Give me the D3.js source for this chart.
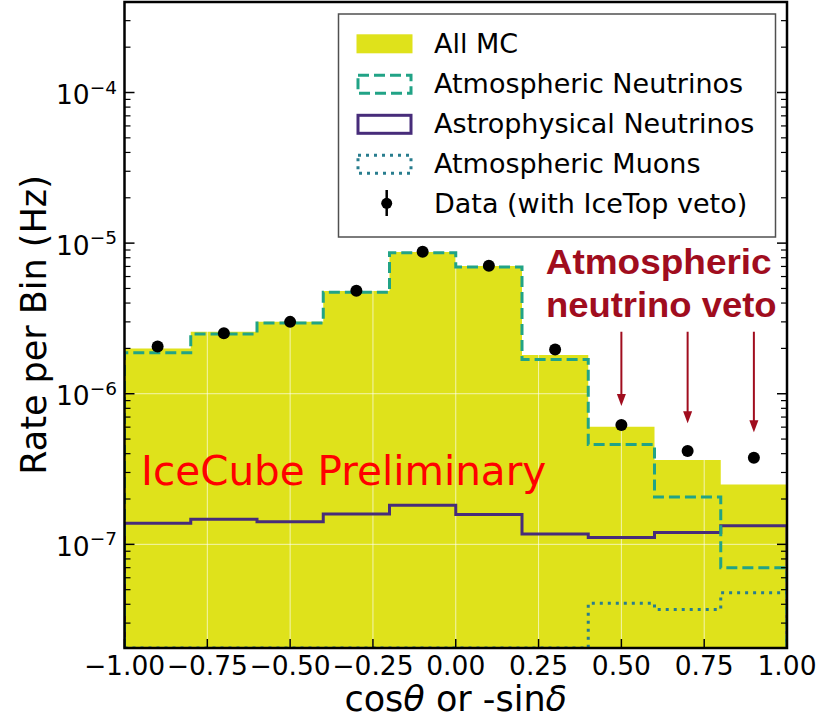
<!DOCTYPE html>
<html>
<head>
<meta charset="utf-8">
<script src="https://cdn.jsdelivr.net/npm/d3@7"></script>
<style>
  body { margin: 0; background: #fff; }
  text { font-family: 'DejaVu Sans', sans-serif; }
</style>
</head>
<body>
<div id="chart"></div>
<script>
// bin edges in cos(theta), 10 bins of width 0.2
const binEdges = [-1.0, -0.8, -0.6, -0.4, -0.2, 0.0, 0.2, 0.4, 0.6, 0.8, 1.0];
const binCenters = [-0.9, -0.7, -0.5, -0.3, -0.1, 0.1, 0.3, 0.5, 0.7, 0.9];

// rates per bin (Hz)
const allMC = [2.0e-6, 2.58e-6, 3.0e-6, 4.81e-6, 8.73e-6, 7.05e-6, 1.81e-6, 6.04e-7, 3.63e-7, 2.5e-7];
const atmNu = [1.87e-6, 2.49e-6, 2.95e-6, 4.71e-6, 8.63e-6, 6.94e-6, 1.69e-6, 4.61e-7, 2.06e-7, 7.0e-8];
const astroNu = [1.38e-7, 1.47e-7, 1.41e-7, 1.59e-7, 1.82e-7, 1.58e-7, 1.17e-7, 1.11e-7, 1.2e-7, 1.33e-7];
const atmMu = [0, 0, 0, 0, 0, 0, 0, 4.06e-8, 3.7e-8, 4.77e-8];
const dataRate = [2.06e-6, 2.52e-6, 3.0e-6, 4.83e-6, 8.77e-6, 7.08e-6, 1.97e-6, 6.2e-7, 4.17e-7, 3.76e-7];

const xTicks = [-1.0, -0.75, -0.5, -0.25, 0.0, 0.25, 0.5, 0.75, 1.0];
const yDecades = [-7, -6, -5, -4];

// veto arrows: x position, where they start and where the tip ends
const arrowX = [0.5, 0.7, 0.9];
const arrowStart = 2.58e-6;
const arrowTip = [8.3e-7, 6.36e-7, 5.55e-7];

const legendLabels = ['All MC', 'Atmospheric Neutrinos', 'Astrophysical Neutrinos', 'Atmospheric Muons', 'Data (with IceTop veto)'];

const width = 817, height = 719;
const pL = 124.5, pR = 787, pT = 2, pB = 648; // plot box

const cYellow = '#dfe21b', cTeal = '#21a386', cPurple = '#472c7a', cDot = '#287d8e', cRed = '#a00d1e';

const x = d3.scaleLinear().domain([-1, 1]).range([pL, pR]);
const y = d3.scaleLog().domain([2.05e-8, 3.99e-4]).range([pB, pT]);
const yc = (v) => (v > 0 ? y(Math.max(v, y.domain()[0])) : pB); // zero bins sit on the floor

const svg = d3.select('#chart').append('svg').attr('width', width).attr('height', height);

svg.append('defs').append('clipPath').attr('id', 'plotclip')
  .append('rect').attr('x', pL).attr('y', pT).attr('width', pR - pL).attr('height', pB - pT);

const plot = svg.append('g').attr('clip-path', 'url(#plotclip)');

// step points: each edge carries the value of the bin to its right, last edge repeats
function stepPts(vals) {
  return binEdges.map((e, i) => [e, vals[Math.min(i, vals.length - 1)]]);
}

// stepfilled all MC
plot.append('path')
  .attr('d', d3.area().curve(d3.curveStepAfter)
    .x((d) => x(d[0])).y0(pB).y1((d) => yc(d[1]))(stepPts(allMC)))
  .attr('fill', cYellow);

// grid over the fill
plot.append('g').selectAll('line').data(xTicks.slice(1, -1)).join('line')
  .attr('x1', (d) => x(d)).attr('x2', (d) => x(d)).attr('y1', pT).attr('y2', pB)
  .attr('stroke', '#fff').attr('stroke-opacity', 0.65).attr('stroke-width', 1);
plot.append('g').selectAll('line').data(yDecades).join('line')
  .attr('x1', pL).attr('x2', pR).attr('y1', (d) => y(Math.pow(10, d))).attr('y2', (d) => y(Math.pow(10, d)))
  .attr('stroke', '#fff').attr('stroke-opacity', 0.65).attr('stroke-width', 1);

// step outlines, dropping to the floor at both ends like histtype='step'
function stepLine(vals) {
  const pts = [[binEdges[0], 0]].concat(stepPts(vals), [[binEdges[binEdges.length - 1], 0]]);
  return d3.line().curve(d3.curveStepAfter).x((d) => x(d[0])).y((d) => yc(d[1]))(pts);
}

plot.append('path').attr('d', stepLine(atmMu)).attr('fill', 'none')
  .attr('stroke', cDot).attr('stroke-width', 3).attr('stroke-dasharray', '3,5');
plot.append('path').attr('d', stepLine(astroNu)).attr('fill', 'none')
  .attr('stroke', cPurple).attr('stroke-width', 3);
plot.append('path').attr('d', stepLine(atmNu)).attr('fill', 'none')
  .attr('stroke', cTeal).attr('stroke-width', 3).attr('stroke-dasharray', '11,5');

// data points
plot.append('g').selectAll('circle').data(dataRate).join('circle')
  .attr('cx', (d, i) => x(binCenters[i])).attr('cy', (d) => y(d)).attr('r', 6).attr('fill', '#000');

// axes frame
svg.append('rect').attr('x', pL).attr('y', pT).attr('width', pR - pL).attr('height', pB - pT)
  .attr('fill', 'none').attr('stroke', '#000').attr('stroke-width', 2.5);

// x ticks (inward, bottom only)
const gx = svg.append('g');
gx.selectAll('line').data(xTicks).join('line')
  .attr('x1', (d) => x(d)).attr('x2', (d) => x(d)).attr('y1', pB).attr('y2', pB - 9)
  .attr('stroke', '#000').attr('stroke-width', 1.5);
gx.selectAll('text').data(xTicks).join('text')
  .attr('x', (d) => x(d)).attr('y', 675).attr('text-anchor', 'middle')
  .attr('font-size', 26.5).text((d) => d3.format('.2f')(d));

// y ticks, major and minor, inward on both sides
const minor = [];
for (let e = -8; e <= -4; e++) for (let k = 2; k <= 9; k++) {
  const v = k * Math.pow(10, e);
  if (v > y.domain()[0] && v < y.domain()[1]) minor.push(v);
}
const major = yDecades.map((d) => Math.pow(10, d));
const gy = svg.append('g');
[[pL, 1], [pR, -1]].forEach(([sx, dir]) => {
  gy.append('g').selectAll('line').data(major).join('line')
    .attr('x1', sx).attr('x2', sx + dir * 10).attr('y1', (d) => y(d)).attr('y2', (d) => y(d))
    .attr('stroke', '#000').attr('stroke-width', 1.5);
  gy.append('g').selectAll('line').data(minor).join('line')
    .attr('x1', sx).attr('x2', sx + dir * 6).attr('y1', (d) => y(d)).attr('y2', (d) => y(d))
    .attr('stroke', '#000').attr('stroke-width', 1.2);
});
const yl = gy.append('g').selectAll('text').data(yDecades).join('text')
  .attr('x', 117).attr('y', (d) => y(Math.pow(10, d)) + 11.5).attr('text-anchor', 'end').attr('font-size', 26.5);
yl.append('tspan').text('10');
yl.append('tspan').attr('dy', -10.5).attr('font-size', 18.5).text((d) => '\u2212' + Math.abs(d));

// axis labels
svg.append('text').attr('transform', 'translate(46,' + (pT + pB) / 2 + ') rotate(-90)')
  .attr('text-anchor', 'middle').attr('font-size', 35).text('Rate per Bin (Hz)');
const xl = svg.append('text').attr('x', (pL + pR) / 2).attr('y', 711)
  .attr('text-anchor', 'middle').attr('font-size', 35);
xl.append('tspan').text('cos');
xl.append('tspan').attr('font-style', 'italic').text('\u03b8');
xl.append('tspan').text(' or -sin');
xl.append('tspan').attr('font-style', 'italic').text('\u03b4');

// IceCube Preliminary
svg.append('text').attr('x', 141).attr('y', 485).attr('font-size', 40.5).attr('fill', '#ff0000')
  .text('IceCube Preliminary');

// veto annotation
const ann = svg.append('g').attr('fill', cRed).attr('font-weight', 'bold').attr('font-size', 35).attr('text-anchor', 'middle');
ann.append('text').attr('x', 658.7).attr('y', 274).attr('textLength', 226).attr('lengthAdjust', 'spacingAndGlyphs')
  .style('font-family', '"Liberation Sans", Arial, sans-serif').text('Atmospheric');
ann.append('text').attr('x', 661.3).attr('y', 317.3).attr('textLength', 230.7).attr('lengthAdjust', 'spacingAndGlyphs')
  .style('font-family', '"Liberation Sans", Arial, sans-serif').text('neutrino veto');

const arr = svg.append('g');
arrowX.forEach((ax, i) => {
  const tip = y(arrowTip[i]);
  arr.append('line').attr('x1', x(ax)).attr('x2', x(ax)).attr('y1', y(arrowStart)).attr('y2', tip - 8)
    .attr('stroke', cRed).attr('stroke-width', 2);
  arr.append('path')
    .attr('d', `M${x(ax) - 4.5},${tip - 12}L${x(ax) + 4.5},${tip - 12}L${x(ax)},${tip}Z`)
    .attr('fill', cRed);
});

// legend
const lg = svg.append('g');
lg.append('rect').attr('x', 338.5).attr('y', 14).attr('width', 437).attr('height', 223)
  .attr('fill', '#fff').attr('stroke', '#505050').attr('stroke-width', 1.5);
const rowBase = (i) => 53.3 + i * 40;
const px = 358, pw = 53, ph = 18;
lg.append('rect').attr('x', px - 1.5).attr('y', rowBase(0) - 19).attr('width', pw + 3).attr('height', ph + 1)
  .attr('fill', cYellow);
lg.append('rect').attr('x', px).attr('y', rowBase(1) - 18).attr('width', pw).attr('height', ph)
  .attr('fill', 'none').attr('stroke', cTeal).attr('stroke-width', 3).attr('stroke-dasharray', '11,5');
lg.append('rect').attr('x', px).attr('y', rowBase(2) - 18).attr('width', pw).attr('height', ph)
  .attr('fill', 'none').attr('stroke', cPurple).attr('stroke-width', 3);
lg.append('rect').attr('x', px).attr('y', rowBase(3) - 18).attr('width', pw).attr('height', ph)
  .attr('fill', 'none').attr('stroke', cDot).attr('stroke-width', 3).attr('stroke-dasharray', '3,5');
lg.append('line').attr('x1', 386.7).attr('x2', 386.7).attr('y1', 190).attr('y2', 216)
  .attr('stroke', '#000').attr('stroke-width', 2.5);
lg.append('circle').attr('cx', 386.7).attr('cy', 203.3).attr('r', 5.5).attr('fill', '#000');
lg.selectAll('text').data(legendLabels).join('text')
  .attr('x', 434).attr('y', (d, i) => rowBase(i)).attr('font-size', 27).text((d) => d);
</script>
</body>
</html>
